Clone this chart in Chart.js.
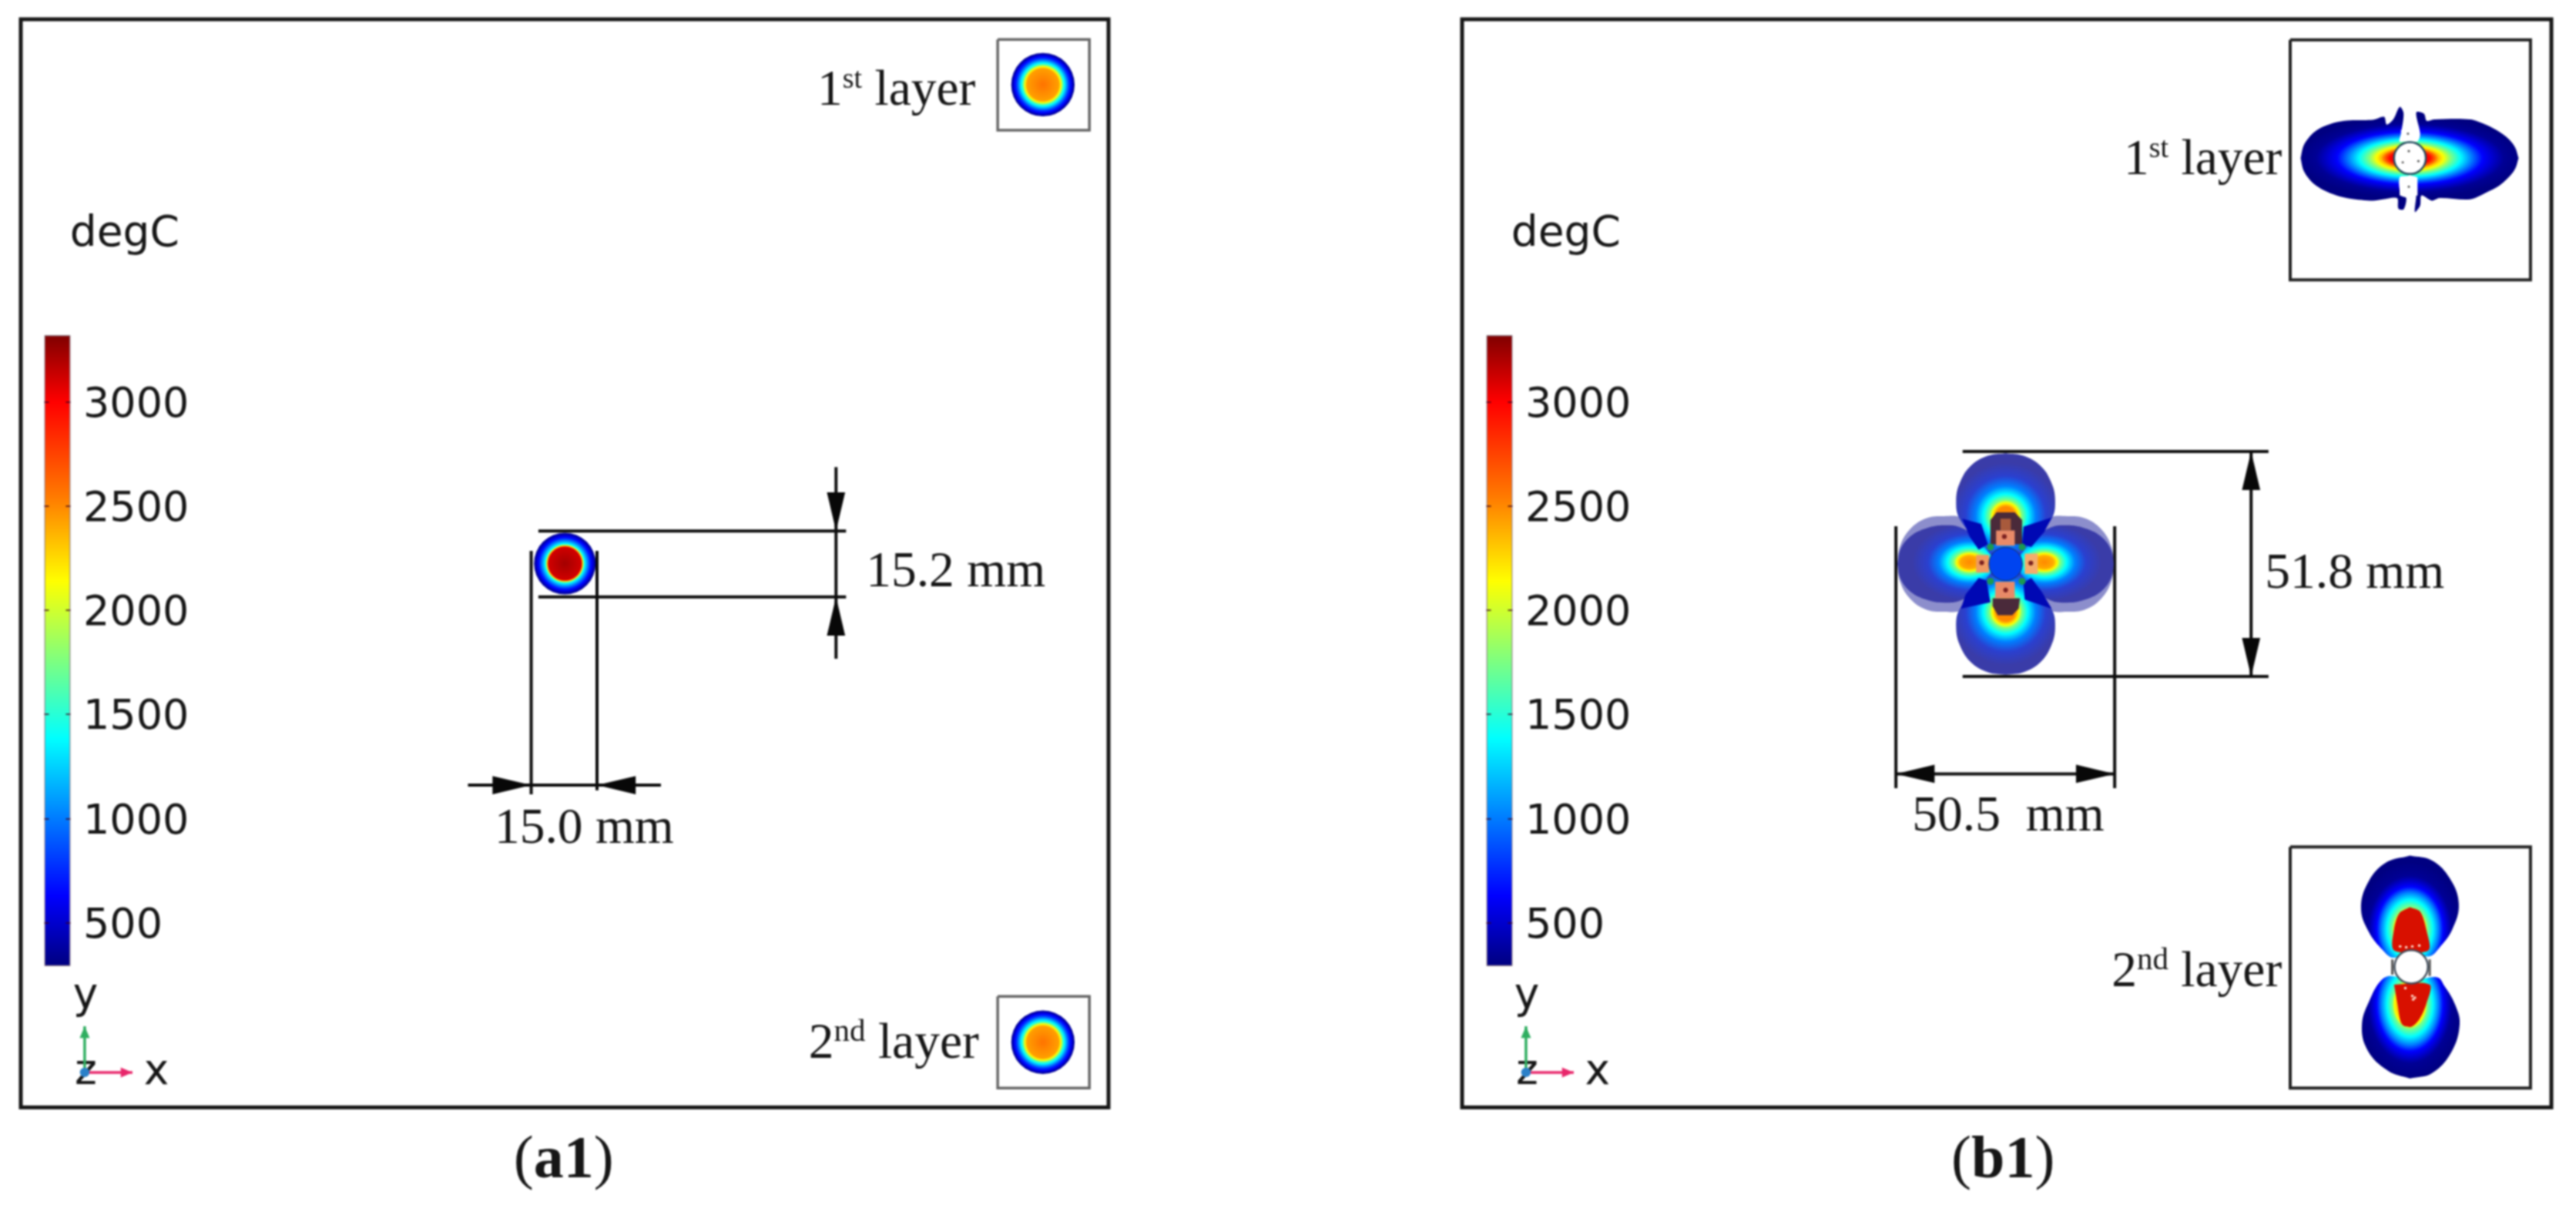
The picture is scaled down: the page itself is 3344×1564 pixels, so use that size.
<!DOCTYPE html>
<html>
<head>
<meta charset="utf-8">
<title>Melt pool width, a1 and b1</title>
<script src="https://cdn.jsdelivr.net/npm/chart.js@4"></script>
<style>
  body { margin: 0; background: #fff; width: 3344px; height: 1564px; position: relative; overflow: hidden; }
  canvas { position: absolute; filter: blur(0.9px); }
</style>
</head>
<body>
<canvas id="panelA" width="1672" height="1564" style="left:0;top:0"></canvas>
<canvas id="panelB" width="1672" height="1564" style="left:1672px;top:0"></canvas>
<canvas id="barA" width="220" height="860" style="left:40px;top:420px"></canvas>
<canvas id="barB" width="220" height="860" style="left:1912px;top:420px"></canvas>
<script>
// colour bar, degC
const barTemps = [292, 630, 1010, 1385, 1760, 2139, 2530, 3000, 3321];
const barColours = ['#00007f', '#0000ff', '#007fff', '#00ffff', '#7fff7f', '#ffff00', '#ff7f00', '#ff0000', '#7f0000'];
const barTicks = [500, 1000, 1500, 2000, 2500, 3000];

// all geometry below is in mm from the bead centre
// panel a1 dimension lines
const dimLinesA = [
  [[-6, 7.6], [64.8, 7.6]],
  [[-6, -7.6], [64.8, -7.6]],
  [[62.5, 22.3], [62.5, -21.8]],
  [[-7.65, 3], [-7.65, -53]],
  [[7.5, 3], [7.5, -52.1]],
  [[-22.2, -50.9], [22.2, -50.9]]
];
const arrowsA = [[62.5, 7.6, 0, -1], [62.5, -7.6, 0, 1], [-7.65, -50.9, 1, 0], [7.5, -50.9, -1, 0]];
const insetA1 = [[99.7, 120.7], [120.8, 120.7], [120.8, 99.8], [99.7, 99.8], [99.7, 120.7]];
const insetA2 = [[99.7, -99.5], [120.8, -99.5], [120.8, -120.6], [99.7, -120.6], [99.7, -99.5]];
// heat discs of panel a1: radius and temperature from the middle out
const spotRadii = [0, 3.8, 4.1, 4.4, 4.8, 5.9, 7.1];
const spotTemps = [3230, 3115, 2200, 1500, 1250, 700, 300];
const insetDiscRadii = [0, 3.7, 4.3, 4.6, 5.1, 6, 7.3];
const insetDiscTemps = [2570, 2430, 2000, 1600, 1300, 800, 300];

// panel b1 dimension lines
const dimLinesB = [
  [[-9.9, 25.9], [60.5, 25.9]],
  [[-9.9, -25.9], [60.5, -25.9]],
  [[56.5, 25.9], [56.5, -25.9]],
  [[-25.25, 8.7], [-25.25, -51.6]],
  [[25.1, 8.7], [25.1, -51.6]],
  [[-25.25, -48.3], [25.1, -48.3]]
];
const arrowsB = [[56.5, 25.9, 0, 1], [56.5, -25.9, 0, -1], [-25.25, -48.3, -1, 0], [25.1, -48.3, 1, 0]];
const insetB1 = [[65.5, 120.6], [120.8, 120.6], [120.8, 65.4], [65.5, 65.4], [65.5, 120.6]];
const insetB2 = [[65.5, -65.1], [120.8, -65.1], [120.8, -120.6], [65.5, -120.6], [65.5, -65.1]];

// four lobes of the b1 pool
const lobeTop = [[0, 25.5], [4.1, 24.9], [8, 22.6], [10.5, 18.8], [11.4, 14.6], [10.6, 10.4], [6.5, 5.7], [0, 0], [-6.5, 5.7], [-10.6, 10.4], [-11.4, 14.6], [-10.5, 18.8], [-8, 22.6], [-4.1, 24.9]];
const lobeBottom = [[0, -25.5], [4.1, -24.9], [8, -22.6], [10.5, -18.8], [11.4, -14.6], [10.6, -10.4], [6.5, -5.7], [0, 0], [-6.5, -5.7], [-10.6, -10.4], [-11.4, -14.6], [-10.5, -18.8], [-8, -22.6], [-4.1, -24.9]];
const haloLeft = [[-24.9, 0], [-24.3, 4.1], [-22, 8], [-18.3, 10.5], [-14.2, 11], [-10.1, 10.6], [-5.6, 6.5], [0, 0], [-5.6, -6.5], [-10.1, -10.6], [-14.2, -11], [-18.3, -10.5], [-22, -8], [-24.3, -4.1]];
const haloRight = [[24.9, 0], [24.3, 4.1], [22, 8], [18.3, 10.5], [14.2, 11], [10.1, 10.6], [5.6, 6.5], [0, 0], [5.6, -6.5], [10.1, -10.6], [14.2, -11], [18.3, -10.5], [22, -8], [24.3, -4.1]];
const bodyLeft = [[-24.9, 0], [-24.3, 3.2], [-22, 6.3], [-18.3, 8.2], [-14.2, 8.9], [-10.1, 8.3], [-5.6, 5.1], [0, 0], [-5.6, -5.1], [-10.1, -8.3], [-14.2, -8.9], [-18.3, -8.2], [-22, -6.3], [-24.3, -3.2]];
const bodyRight = [[24.9, 0], [24.3, 3.2], [22, 6.3], [18.3, 8.2], [14.2, 8.9], [10.1, 8.3], [5.6, 5.1], [0, 0], [5.6, -5.1], [10.1, -8.3], [14.2, -8.9], [18.3, -8.2], [22, -6.3], [24.3, -3.2]];
const sideRings = [0, 0.13, 0.18, 0.22, 0.31, 0.43, 0.58, 0.8, 1];
const sideTemps = [2500, 2400, 2139, 1760, 1385, 1010, '#2a40d0', '#3a3ca8', '#3a3ca8'];
const endRings = [0, 0.14, 0.2, 0.24, 0.33, 0.45, 0.6, 0.8];
const endTemps = [2500, 2500, 2139, 1760, 1385, 1010, '#2a40d0', '#3a3ca8'];
const wedges = [
  [[4.1, 8.6], [10.6, 10.7], [8.9, 7.4], [5.9, 3.9], [3.8, 4.5]],
  [[-10, 10.4], [-5.6, 9.2], [-4.1, 4.5], [-6.2, 3.3], [-8.3, 6.3]],
  [[-10.3, -10.3], [-3.5, -8.8], [-4.4, -3.8], [-6.2, -3.2], [-9.2, -7]],
  [[10.6, -10.3], [4.4, -8.2], [4.1, -4.4], [5.9, -3.2], [8.3, -6.4]]
];
const topDark = [[-3.5, 10.1], [-2.1, 11.9], [2.1, 11.9], [3.8, 10.1], [3.8, 4.5], [-3.5, 4.5]];
const topBrown = [[-1.2, 10.4], [1.2, 10.4], [1.2, 7.7], [-1.2, 7.7]];
const topPink = [[-2.2, 7.7], [2.1, 7.7], [2.1, 4.2], [-2.2, 4.2]];
const bottomDark = [[-3, -7.9], [3.3, -7.9], [3, -10.3], [1.5, -11.8], [-1.8, -11.8], [-3, -9.7]];
const bottomPink = [[-2.4, -4.1], [2.1, -4.1], [2.1, -7.9], [-2.4, -7.9]];
const leftPatch = [[-6.8, 2.1], [-3.8, 2.1], [-3.8, -2], [-6.8, -2]];
const rightPatch = [[4.4, 2.4], [7.4, 2.4], [7.4, -2.3], [4.4, -2.3]];
const greenSpecks = [[-3.5, 3.9], [3.8, 3.9], [-3.5, -4], [3.8, -4]];
const darkSpecks = [[-0.3, 6.3], [0, -6], [-5.5, 0.3], [5.8, 0.2]];

// b1, 1st layer inset
const layer1Left = [[67.9, 93.4], [68.4, 95.8], [69.1, 97.2], [70.9, 99.3], [73.25, 100.7], [76.2, 101.7], [79.2, 102.1], [84.5, 102.2], [87.1, 102.9], [87.7, 101.1], [89.2, 102.3], [90.7, 105.2], [91.6, 103.7], [91, 99], [90.7, 97.2], [93.05, 97.2], [93.05, 89.6], [90.7, 89], [91, 84.8], [92.2, 84.2], [91.6, 81.6], [90.4, 81.8], [90.1, 84.2], [86.8, 83.9], [84.5, 83.6], [79.2, 84.1], [76.2, 84.8], [73.25, 86], [70.9, 87.5], [69.1, 89.6], [68.4, 91]];
const layer1Right = [[118.05, 93.4], [117.3, 95.8], [115.8, 97.8], [113.4, 99.6], [110.5, 101.1], [106.9, 102.3], [98.7, 102.3], [96.9, 102], [96.3, 103.6], [94.5, 103.9], [95.4, 99], [94.8, 97.2], [93.05, 97.2], [93.05, 89.6], [94.5, 89], [94.5, 84.8], [94.2, 81], [95.4, 82.5], [95.7, 84.8], [98.1, 83.6], [99.85, 84.2], [106.9, 83.9], [110.5, 85.4], [113.4, 86.9], [115.8, 89], [117.3, 91]];
const layer1Rings = [0, 0.18, 0.22, 0.26, 0.31, 0.37, 0.46, 0.56, 0.66, 0.85, 1];
const layer1Temps = [3000, 3000, 2700, 2350, 2100, 1760, 1385, 1000, 630, 350, 298];
const layer1BlockTop = [[91, 99.9], [94.5, 99.9], [94.5, 97.2], [91, 97.2]];
const layer1BlockBottom = [[90.7, 89], [94.8, 89], [94.8, 84.8], [90.7, 84.8]];
const layer1Specks = [[92.6, 99], [92.8, 86.8], [92.8, 95], [91.4, 92.4], [95, 92.7]];

// b1, 2nd layer inset
const layer2Top = [[93.05, -67.1], [98.1, -68.2], [102.2, -72.3], [104.3, -78.2], [102.8, -84.1], [99.85, -88.3], [97.5, -90.3], [93.35, -89.45], [89.2, -90.6], [86.85, -88.9], [83.6, -84.7], [81.8, -79.4], [83.3, -73.5], [87.4, -68.8]];
const layer2Bottom = [[93.05, -118.4], [98.1, -117.2], [102.5, -112.5], [104.5, -106], [103.4, -101.3], [101, -97.1], [99.3, -95.1], [93.35, -95.95], [88.6, -94.8], [86.3, -95.95], [83.9, -100.1], [82, -106], [83.3, -111.9], [88, -116.6]];
const layer2Rings = [0, 0.3, 0.33, 0.44, 0.55, 0.64, 0.8, 1];
const layer2Temps = [2960, 2139, 1760, 1385, 1010, 630, 350, 298];
const layer2RedTop = [[93.05, -79], [95.4, -80], [96.8, -84.1], [97.3, -88.9], [89.4, -88.9], [89.4, -84.1], [90.6, -80.4]];
const layer2RedBottom = [[89.4, -96.8], [97.6, -96.8], [96.8, -101.3], [95.2, -104.8], [93.35, -106.5], [91.2, -105.9], [90.2, -101.3]];
const layer2PaleBits = [[90.8, -88], [92.2, -88.2], [93.6, -88], [95.2, -87.8], [92, -97.6], [93.6, -99.4], [93.8, -100.2], [94.2, -99.8]];
const layer2Stubs = [[[89, -91], [89, -94.5]], [[97.6, -91], [97.6, -94.8]]];

// coordinate triad, both panels
const triadY = [[-110.4, -117], [-110.4, -106.4]];
const triadX = [[-110.4, -117], [-99.4, -117]];

const SERIF = '65.5px "Liberation Serif"';
const SUPER = '38px "Liberation Serif"';
const SUPER2 = '41px "Liberation Serif"';
const SANS = '55px "DejaVu Sans"';
const CAP = '78px "Liberation Serif"';
const CAPB = 'bold 78px "Liberation Serif"';

const commonNotes = [
  [-113.8, 73.2, [{ t: 'degC', f: SANS }]],
  [-113.1, -102.1, [{ t: 'y', f: SANS }]],
  [-112.7, -119.7, [{ t: 'z', f: SANS }]],
  [-96.8, -119.7, [{ t: 'x', f: SANS }]]
];
const first = [{ t: '1', f: SERIF }, { t: 'st', f: SUPER, up: 22 }, { t: ' layer', f: SERIF }];
const second = [{ t: '2', f: SERIF }, { t: 'nd', f: SUPER2, up: 22 }, { t: ' layer', f: SERIF }];
const notesA = commonNotes.concat([
  [58.2, 105.6, first],
  [56.2, -113.7, second],
  [69.4, -5.1, [{ t: '15.2 mm', f: SERIF }]],
  [-16.1, -64.2, [{ t: '15.0 mm', f: SERIF }]],
  [-11.7, -141.1, [{ t: '(', f: CAP }, { t: 'a1', f: CAPB }, { t: ')', f: CAP }]]
]);
const notesB = commonNotes.concat([
  [27.2, 89.7, first],
  [24.4, -97.2, second],
  [59.7, -5.5, [{ t: '51.8 mm', f: SERIF }]],
  [-21.5, -61.3, [{ t: '50.5\u00a0\u00a0mm', f: SERIF }]],
  [-12.5, -141.1, [{ t: '(', f: CAP }, { t: 'b1', f: CAPB }, { t: ')', f: CAP }]]
]);

const toRgb = h => [1, 3, 5].map(i => parseInt(h.slice(i, i + 2), 16));

const jet = t => {
  let i = 0;
  while (i < barTemps.length - 2 && t > barTemps[i + 1]) i++;
  const k = Math.min(1, Math.max(0, (t - barTemps[i]) / (barTemps[i + 1] - barTemps[i])));
  const a = toRgb(barColours[i]), b = toRgb(barColours[i + 1]);
  return `rgb(${a.map((v, n) => Math.round(v + (b[n] - v) * k)).join(',')})`;
};

const mmToPx = (chart, mm) => Math.abs(chart.scales.x.getPixelForValue(mm) - chart.scales.x.getPixelForValue(0)) || 0;

// radial or elliptical temperature field, painted once off screen and used as a fill.
// options get resolved once before the layout is done, so wait for chartArea
const heat = (x, y, rx, ry, rings, temps) => {
  let pattern = null;
  return c => {
    if (pattern) return pattern;
    const chart = c.chart;
    if (!chart.chartArea) return 'rgba(0,0,0,0)';
    const off = document.createElement('canvas');
    off.width = chart.width;
    off.height = chart.height;
    const g = off.getContext('2d');
    g.translate(chart.scales.x.getPixelForValue(x), chart.scales.y.getPixelForValue(y));
    g.scale(mmToPx(chart, rx), mmToPx(chart, ry));
    const grad = g.createRadialGradient(0, 0, 0, 0, 0, 1);
    rings.forEach((r, i) => {
      const t = temps[i];
      grad.addColorStop(r, typeof t === 'string' ? t : jet(t));
      const next = temps[i + 1];
      if (typeof t === 'number' && typeof next === 'number') {
        for (let s = 1; s < 6; s++) {
          grad.addColorStop(r + (rings[i + 1] - r) * s / 6, jet(t + (next - t) * s / 6));
        }
      }
    });
    g.fillStyle = grad;
    g.fillRect(-100, -100, 200, 200);
    pattern = chart.ctx.createPattern(off, 'no-repeat');
    return pattern;
  };
};

const toPoints = a => a.map(([x, y]) => ({ x, y }));

const shape = (points, fill, tension = 0) => ({
  data: toPoints(points.concat([points[0]])),
  showLine: true, fill: 'shape', borderWidth: 0, pointRadius: 0, tension, backgroundColor: fill
});

const stroke = (points, colour, width) => ({
  data: toPoints(points),
  showLine: true, fill: false, borderColor: colour, borderWidth: width, pointRadius: 0
});

const discs = (points, r, fill, edge = 'transparent', edgeWidth = 0) => ({
  data: toPoints(points),
  showLine: false,
  pointRadius: c => mmToPx(c.chart, r),
  pointBackgroundColor: fill,
  pointBorderColor: edge,
  pointBorderWidth: edgeWidth
});

const arrowHead = ([x, y, dx, dy], len, half, colour) => shape([
  [x, y],
  [x - dx * len - dy * half, y - dy * len - dx * half],
  [x - dx * len + dy * half, y - dy * len + dx * half]
], colour);

const triad = () => [
  stroke(triadY, '#2fae60', 3.5),
  stroke(triadX, '#e8266a', 3.5),
  arrowHead([-110.4, -106.4, 0, 1], 2.7, 1.15, '#2fae60'),
  arrowHead([-99.4, -117, 1, 0], 2.7, 1.15, '#e8266a'),
  discs([[-110.4, -117]], 1.1, '#2a80c8')
];

const layoutPlugin = notes => ({
  id: 'notes',
  beforeDatasetsDraw(chart) {
    const { ctx, chartArea: a, scales } = chart;
    ctx.save();
    ctx.strokeStyle = '#161616';
    ctx.lineWidth = 5;
    ctx.strokeRect(a.left, a.top, a.width, a.height);
    ctx.fillStyle = '#161616';
    ctx.textBaseline = 'alphabetic';
    notes.forEach(([x, y, runs]) => {
      let px = scales.x.getPixelForValue(x);
      const py = scales.y.getPixelForValue(y);
      runs.forEach(r => {
        ctx.font = r.f;
        ctx.fillText(r.t, px, py - (r.up || 0));
        px += ctx.measureText(r.t).width;
      });
    });
    ctx.restore();
  }
});

const drawPanel = (id, padding, xMin, xMax, layers, notes) => new Chart(document.getElementById(id), {
  type: 'scatter',
  data: { datasets: layers.slice().reverse() },  // first dataset is painted last
  options: {
    responsive: false,
    animation: false,
    devicePixelRatio: 1,
    events: [],
    layout: { padding },
    scales: {
      x: { type: 'linear', display: false, min: xMin, max: xMax },
      y: { type: 'linear', display: false, min: -125.05, max: 125.35 }
    },
    plugins: { legend: { display: false }, tooltip: { enabled: false } }
  },
  plugins: [layoutPlugin(notes)]
});

const drawBar = id => new Chart(document.getElementById(id), {
  type: 'bar',
  data: {
    labels: ['degC'],
    datasets: [{
      data: [[barTemps[0], barTemps[barTemps.length - 1]]],
      barPercentage: 1,
      categoryPercentage: 1,
      borderWidth: 1.5,
      borderColor: 'rgba(70,40,60,0.65)',
      borderSkipped: false,
      backgroundColor: c => {
        if (!c.chart.chartArea) return barColours[0];
        const s = c.chart.scales.y;
        const lo = barTemps[0], hi = barTemps[barTemps.length - 1];
        const grad = c.chart.ctx.createLinearGradient(0, s.getPixelForValue(lo), 0, s.getPixelForValue(hi));
        barTemps.forEach((t, i) => grad.addColorStop((t - lo) / (hi - lo), barColours[i]));
        return grad;
      }
    }]
  },
  options: {
    responsive: false,
    animation: false,
    devicePixelRatio: 1,
    events: [],
    layout: { padding: { left: 17.5, top: 15, bottom: 26, right: 0 } },
    scales: {
      x: { display: false },
      y: {
        position: 'right',
        min: barTemps[0],
        max: barTemps[barTemps.length - 1],
        afterBuildTicks: s => { s.ticks = barTicks.map(value => ({ value })); },
        afterFit: s => { s.width = 168.5; s.paddingTop = 0; s.paddingBottom = 0; },
        ticks: {
          padding: 16.5,
          labelOffset: 5,
          color: '#161616',
          font: { family: '"DejaVu Sans"', size: 54 },
          callback: v => String(v)
        },
        grid: { drawTicks: false, color: 'rgba(60,0,30,0.7)', lineWidth: 2, z: 1 },
        border: { display: false, dash: [6, 22, 6] }
      }
    },
    plugins: { legend: { display: false }, tooltip: { enabled: false } }
  }
});

const layersA = [
  ...dimLinesA.map(l => stroke(l, '#0c0c0c', 4)),
  ...arrowsA.map(a => arrowHead(a, 8.9, 2.1, '#080808')),
  stroke(insetA1, '#666', 3.5),
  stroke(insetA2, '#666', 3.5),
  discs([[0.1, 0.1]], 7.1, heat(0.1, 0.1, 7.1, 7.1, spotRadii.map(r => r / 7.1), spotTemps)),
  discs([[110.1, 110.3]], 7.3, heat(110.1, 110.3, 7.3, 7.3, insetDiscRadii.map(r => r / 7.3), insetDiscTemps)),
  discs([[110.1, -110.05]], 7.3, heat(110.1, -110.05, 7.3, 7.3, insetDiscRadii.map(r => r / 7.3), insetDiscTemps)),
  ...triad()
];

const layersB = [
  ...dimLinesB.map(l => stroke(l, '#0c0c0c', 4)),
  ...arrowsB.map(a => arrowHead(a, 8.9, 2.1, '#080808')),
  stroke(insetB1, '#222', 4),
  stroke(insetB2, '#222', 4),
  shape(haloLeft, 'rgba(70,72,172,0.62)', 0.4),
  shape(haloRight, 'rgba(70,72,172,0.62)', 0.4),
  shape(bodyLeft, heat(-8.3, 0.4, 16.5, 11.2, sideRings, sideTemps), 0.4),
  shape(bodyRight, heat(8.9, 0.4, 16.5, 11.2, sideRings, sideTemps), 0.4),
  shape(lobeTop, heat(0, 11, 15.4, 15.4, endRings, endTemps), 0.4),
  shape(lobeBottom, heat(0, -11, 15.4, 15.4, endRings, endTemps), 0.4),
  ...wedges.map(w => shape(w, '#0008b4')),
  shape(topDark, '#4a2a3a'),
  shape(topBrown, '#a85a3c'),
  shape(topPink, '#e88a68'),
  shape(bottomDark, '#4a2a3a'),
  shape(bottomPink, '#e88a68'),
  shape(leftPatch, '#ee9a62'),
  shape(rightPatch, '#f4ac6c'),
  discs(greenSpecks, 0.8, '#1a9a50'),
  discs(darkSpecks, 0.55, '#7a2020'),
  discs([[0, 0]], 3.85, '#0044f0', '#202a50', 1),
  // 1st layer inset
  shape(layer1Left, heat(93.05, 93.4, 25.4, 9.2, layer1Rings, layer1Temps), 0.3),
  shape(layer1Right, heat(93.05, 93.4, 25.4, 9.2, layer1Rings, layer1Temps), 0.3),
  shape(layer1BlockTop, '#ffffff'),
  shape(layer1BlockBottom, '#ffffff'),
  discs([[93.05, 93.4]], 3.66, '#ffffff', '#244a5e', 2.5),
  discs(layer1Specks, 0.25, '#444'),
  // 2nd layer inset
  shape(layer2Top, heat(93.05, -84.1, 12, 15.4, layer2Rings, layer2Temps), 0.4),
  shape(layer2Bottom, heat(93.05, -101.3, 12, 17, layer2Rings, layer2Temps), 0.4),
  shape(layer2RedTop, '#d81000', 0.3),
  shape(layer2RedBottom, '#d81000', 0.3),
  discs(layer2PaleBits, 0.3, '#ffe8d8'),
  ...layer2Stubs.map(s => stroke(s, '#555', 3)),
  discs([[93.35, -92.7]], 3.84, '#ffffff', '#44505e', 2.5),
  ...triad()
];

drawPanel('panelA', { left: 27, right: 233, top: 25, bottom: 126.7 }, -125.1, 125.2, layersA, notesA);
drawPanel('panelB', { left: 226, right: 32, top: 25, bottom: 126.7 }, -125.1, 125.6, layersB, notesB);
drawBar('barA');
drawBar('barB');
</script>
</body>
</html>
